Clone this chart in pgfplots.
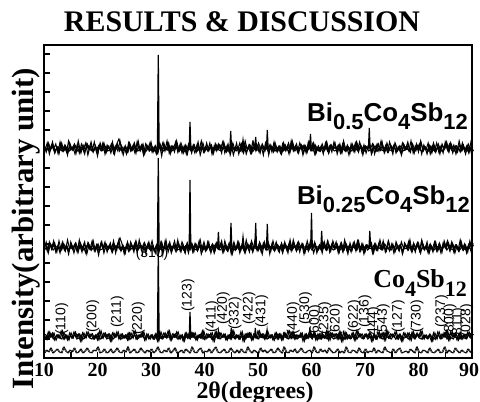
\documentclass[border=0pt]{standalone}
\usepackage{fontspec}
\setmainfont{Liberation Serif}
\newfontfamily\arial{Liberation Sans}
\usepackage{pgfplots}
\pgfplotsset{compat=1.18}
\usepackage{pgfplotstable}

\newcommand{\subA}[1]{\raisebox{-8bp}{\fontsize{22}{22}\selectfont #1}}
\newcommand{\subB}[1]{\raisebox{-9bp}{\fontsize{22}{22}\selectfont #1}}

% noise around each baseline: a = Bi0.5, b = Bi0.25, c = Co4Sb12, d = bottom trace
\pgfplotstableread{
x a b c d
10.0 3 -2 2 0
10.4 -4 5 -3 3
10.8 5 -6 4 1
11.2 -2 3 -1 5
11.6 6 -1 3 0
12.0 -5 4 -4 2
12.4 1 -5 1 4
12.8 -6 6 -2 1
13.2 4 -3 5 0
13.6 -3 2 -3 6
14.0 2 -4 1 2
14.4 -7 7 -4 0
14.8 5 -2 3 3
15.2 -1 1 -2 1
15.6 3 -6 4 5
16.0 -5 3 -1 0
16.4 7 -5 2 1
16.8 -3 4 -5 4
17.2 0 -1 3 0
17.6 -6 5 -2 2
18.0 4 -7 4 5
18.4 -2 2 -1 1
18.8 6 -3 2 0
19.2 -4 6 -3 3
19.6 2 -4 1 2
20.0 -8 1 -4 6
20.4 3 -2 5 0
20.8 -1 5 -2 1
21.2 5 -6 3 4
21.6 -5 3 -1 0
22.0 1 -1 2 1
22.4 -3 4 -5 4
22.8 6 -5 3 0
23.2 -6 2 -1 2
23.6 4 -3 4 5
24.0 9 7 -3 1
24.4 3 -4 2 0
24.8 -7 1 -2 3
25.2 2 -6 1 1
25.6 -4 5 -4 6
26.0 5 -3 3 0
26.4 -1 2 -2 2
26.8 4 -5 5 4
27.2 -5 6 -3 0
27.6 7 -2 1 1
28.0 -3 3 -1 5
28.4 1 -7 4 2
28.8 -6 4 -4 0
29.2 3 -1 2 3
29.6 -2 5 -3 1
30.0 6 -4 1 4
30.4 -4 1 -3 0
30.8 2 -6 2 2
31.2 -5 3 -5 6
31.6 4 -2 4 1
32.0 -8 5 -2 0
32.4 5 -3 3 3
32.8 -2 7 -1 1
33.2 3 -5 5 5
33.6 -6 2 -4 0
34.0 1 -1 2 2
34.4 -4 6 -1 5
34.8 7 -4 4 0
35.2 -3 3 -3 1
35.6 5 -5 1 3
36.0 -1 2 -5 0
36.4 2 -6 3 4
36.8 -6 4 -2 2
37.2 4 -2 4 0
37.6 -5 1 -1 6
38.0 3 -5 3 1
38.4 -2 3 -4 0
38.8 6 -2 1 3
39.2 -7 7 -2 5
39.6 1 -4 5 0
40.0 -4 1 -3 2
40.4 5 -3 2 1
40.8 -3 5 -1 4
41.2 2 -6 3 0
41.6 -6 2 -5 3
42.0 4 -3 4 6
42.4 -1 4 -2 1
42.8 3 -1 3 0
43.2 -5 6 -1 2
43.6 6 -5 2 4
44.0 -2 2 -4 0
44.4 4 -4 1 1
44.8 -7 3 -3 5
45.2 2 -7 5 2
45.6 -3 1 -2 0
46.0 5 -2 1 3
46.4 -6 5 -3 0
46.8 1 -3 4 4
47.2 -4 4 -5 1
47.6 7 -6 2 0
48.0 -2 1 -1 6
48.4 3 -5 3 2
48.8 -5 6 -4 0
49.2 6 -1 2 3
49.6 -3 3 -2 1
50.0 2 -4 5 0
50.4 -5 2 -1 5
50.8 4 -7 2 1
51.2 -1 5 -3 3
51.6 6 -2 4 0
52.0 -7 3 -2 2
52.4 3 -4 1 4
52.8 -2 6 -4 0
53.2 5 -3 3 1
53.6 -4 1 -3 5
54.0 1 -5 2 2
54.4 -6 4 -4 0
54.8 5 -2 3 6
55.2 -3 1 -1 1
55.6 2 -6 5 0
56.0 -4 7 -2 3
56.4 7 -3 4 1
56.8 -1 2 -3 4
57.2 4 -4 1 0
57.6 -5 5 -1 2
58.0 3 -1 3 5
58.4 -7 3 -5 1
58.8 2 -5 2 0
59.2 -4 6 -2 2
59.6 6 -2 4 3
60.0 -2 4 -1 0
60.4 5 -6 3 6
60.8 -6 1 -4 1
61.2 1 -3 2 0
61.6 -3 2 -3 4
62.0 4 -6 1 1
62.4 -2 5 -2 3
62.8 6 -3 5 0
63.2 -5 2 -4 5
63.6 3 -4 3 2
64.0 -1 6 -1 0
64.4 5 -1 2 1
64.8 -6 3 -3 4
65.2 2 -5 4 0
65.6 -4 4 -5 2
66.0 7 -2 4 0
66.4 -3 1 -3 6
66.8 1 -7 1 1
67.2 -5 4 -2 0
67.6 4 -3 3 3
68.0 -2 5 -4 2
68.4 6 -2 5 0
68.8 -4 6 -1 5
69.2 3 -4 2 1
69.6 -7 3 -2 0
70.0 2 -5 2 4
70.4 -1 2 -1 0
70.8 5 -1 3 2
71.2 -6 4 -5 1
71.6 3 -6 1 5
72.0 -3 3 -3 0
72.4 4 -3 4 3
72.8 -2 7 -2 1
73.2 6 -2 3 0
73.6 -5 1 -4 6
74.0 1 -4 5 2
74.4 -4 6 -2 1
74.8 3 -2 2 0
75.2 -6 3 -1 4
75.6 5 -5 4 0
76.0 -2 1 -3 3
76.4 2 -4 1 5
76.8 -7 5 -5 0
77.2 4 -1 3 1
77.6 -1 2 -1 2
78.0 6 -3 3 0
78.4 -3 7 -4 4
78.8 2 -5 4 2
79.2 -5 2 -2 0
79.6 4 -1 2 6
80.0 -4 4 -1 1
80.4 7 -6 5 0
80.8 -2 3 -3 3
81.2 1 -2 1 2
81.6 -6 5 -2 0
82.0 3 -6 1 5
82.4 -2 1 -5 1
82.8 5 -3 3 0
83.2 -4 5 -3 2
83.6 2 -4 4 4
84.0 -6 2 -2 0
84.4 4 -5 2 1
84.8 -1 6 -1 6
85.2 6 -1 5 0
85.6 -3 4 -4 3
86.0 5 -2 4 1
86.4 -5 3 -1 0
86.8 1 -6 2 5
87.2 -3 1 -4 2
87.6 7 -4 3 0
88.0 -2 5 -3 3
88.4 3 -3 1 1
88.8 -6 2 -2 0
89.2 2 -5 4 4
89.6 -4 6 -1 1
90.0 4 -3 2 0
}\noise

\pgfplotstableread{
x y
31.20 210
31.36 303
31.52 210
37.14 210
37.29 236
37.44 210
44.75 210
44.90 227
45.05 210
47.00 210
47.20 218
47.40 210
49.42 210
49.57 221
49.72 210
51.59 210
51.74 228
51.89 210
59.66 210
59.81 224
59.96 210
70.65 210
70.80 230
70.95 210
}\peaksA

\pgfplotstableread{
x y
31.20 111
31.36 200
31.52 111
37.14 111
37.29 178
37.44 111
42.45 111
42.60 126
42.75 111
44.80 111
44.95 135
45.10 111
47.00 111
47.20 121
47.40 111
49.42 111
49.57 135
49.72 111
51.59 111
51.74 134
51.89 111
59.85 111
60.00 145
60.15 111
61.75 111
61.90 127
62.05 111
70.75 111
70.90 127
71.05 111
}\peaksB

\pgfplotstableread{
x y
31.20 21
31.36 110
31.52 21
37.14 21
37.29 46
37.44 21
42.45 21
42.60 27
42.75 21
44.85 21
45.00 30
45.15 21
49.35 21
49.50 30
49.65 21
51.55 21
51.70 28
51.85 21
59.55 21
59.70 30
59.85 21
61.85 21
62.00 25
62.15 21
}\peaksC

\begin{document}
\begin{tikzpicture}
\path[use as bounding box] (-44bp,-44bp) rectangle (436bp,358bp);
\begin{axis}[
  at={(0,0)}, anchor=south west,
  scale only axis, width=428bp, height=313bp,
  xmin=10, xmax=90, ymin=0, ymax=313,
  clip=false,
  axis line style={line width=2bp},
  tick pos=left,
  xtick={10,20,...,80}, minor xtick={15,25,...,85},
  extra x ticks={90},
  extra x tick style={xticklabel style={xshift=-3bp}},
  ytick={0,19,...,304}, yticklabel=\empty,
  tick align=inside, major tick length=6bp, minor tick length=6bp,
  every tick/.style={line width=1.5bp, black},
  /pgf/number format/assume math mode=true,
  xticklabel style={font=\bfseries\fontsize{20}{20}\selectfont, yshift=-2bp},
  noise/.style={black, line width=1.05bp},
]
\node[font=\arial\fontsize{14}{14}\selectfont, anchor=base, inner sep=0] at (axis cs:30.2,100) {(310)};
% Bi0.5Co4Sb12 (several noise passes)
\addplot[noise] table[x=x, y expr=\thisrow{a}+210] {\noise};
\addplot[noise] table[x expr=\thisrow{x}+0.1, y expr=\thisrow{c}+210] {\noise};
\addplot[noise] table[x expr=\thisrow{x}+0.2, y expr=\thisrow{b}+210] {\noise};
\addplot[noise] table[x expr=\thisrow{x}+0.3, y expr=\thisrow{d}+207] {\noise};
% Bi0.25Co4Sb12
\addplot[noise] table[x=x, y expr=\thisrow{b}+111] {\noise};
\addplot[noise] table[x expr=\thisrow{x}+0.1, y expr=\thisrow{d}+108] {\noise};
\addplot[noise] table[x expr=\thisrow{x}+0.2, y expr=\thisrow{a}+111] {\noise};
\addplot[noise] table[x expr=\thisrow{x}+0.3, y expr=\thisrow{c}+111] {\noise};
% Co4Sb12
\addplot[noise] table[x=x, y expr=\thisrow{c}+22] {\noise};
\addplot[noise] table[x expr=\thisrow{x}+0.13, y expr=\thisrow{d}+19] {\noise};
\addplot[noise] table[x expr=\thisrow{x}+0.27, y expr=\thisrow{c}+22] {\noise};
% bottom trace
\addplot[black, line width=0.6bp] table[x=x, y expr=\thisrow{d}+5] {\noise};
\addplot[black, line width=0.6bp] table[x expr=\thisrow{x}+0.2, y expr=\thisrow{d}+5] {\noise};
\addplot[black, line width=1.2bp] table[x=x, y=y] {\peaksA};
\addplot[black, line width=1.2bp] table[x=x, y=y] {\peaksB};
\addplot[black, line width=1.2bp] table[x=x, y=y] {\peaksC};
\begin{scope}[every node/.style={rotate=90, anchor=west, inner sep=0, font=\arial\fontsize{14}{14}\selectfont}]
\node at (axis cs:13.3,23) {(110)};
\node at (axis cs:19.1,25) {(200)};
\node at (axis cs:23.7,30) {(211)};
\node at (axis cs:27.6,23) {(220)};
\node at (axis cs:36.9,46) {(123)};
\node at (axis cs:41.4,25) {(411)};
\node at (axis cs:43.5,33) {(420)};
\node at (axis cs:45.7,28) {(332)};
\node at (axis cs:48.3,33) {(422)};
\node at (axis cs:50.7,30) {(431)};
\node at (axis cs:56.6,23) {(440)};
\node at (axis cs:58.9,33) {(530)};
\node at (axis cs:60.7,20) {(600)};
\node at (axis cs:62.5,23) {(235)};
\node at (axis cs:64.6,21) {(620)};
\node at (axis cs:68.0,25) {(622)};
\node at (axis cs:70.0,30) {(136)};
\node at (axis cs:71.6,18) {(444)};
\node at (axis cs:73.4,21) {(543)};
\node at (axis cs:76.2,25) {(127)};
\node at (axis cs:79.7,25) {(730)};
\node at (axis cs:84.3,30) {(237)};
\node at (axis cs:85.9,21) {(800)};
\node at (axis cs:87.4,18) {(811)};
\node at (axis cs:89.0,21) {(028)};
\end{scope}
\end{axis}
\node[font=\bfseries\fontsize{30}{34}\selectfont, anchor=base] at (198bp,326bp) {RESULTS \& DISCUSSION};
\node[font=\bfseries\fontsize{31}{34}\selectfont, rotate=90, anchor=base] at (-11bp,129bp) {Intensity(arbitrary unit)};
\node[font=\bfseries\fontsize{24}{28}\selectfont, anchor=base] at (211bp,-40bp) {2θ(degrees)};
\node[font=\arial\bfseries\fontsize{26}{26}\selectfont, anchor=base east, inner sep=0] at (424bp,236bp) {Bi\subA{0.5}Co\subA{4}Sb\subA{12}};
\node[font=\arial\bfseries\fontsize{26}{26}\selectfont, anchor=base east, inner sep=0] at (426bp,153bp) {Bi\subA{0.25}Co\subA{4}Sb\subA{12}};
\node[font=\bfseries\fontsize{26}{26}\selectfont, anchor=base east, inner sep=0] at (423bp,70bp) {Co\subB{4}Sb\subB{12}};
\end{tikzpicture}
\end{document}
